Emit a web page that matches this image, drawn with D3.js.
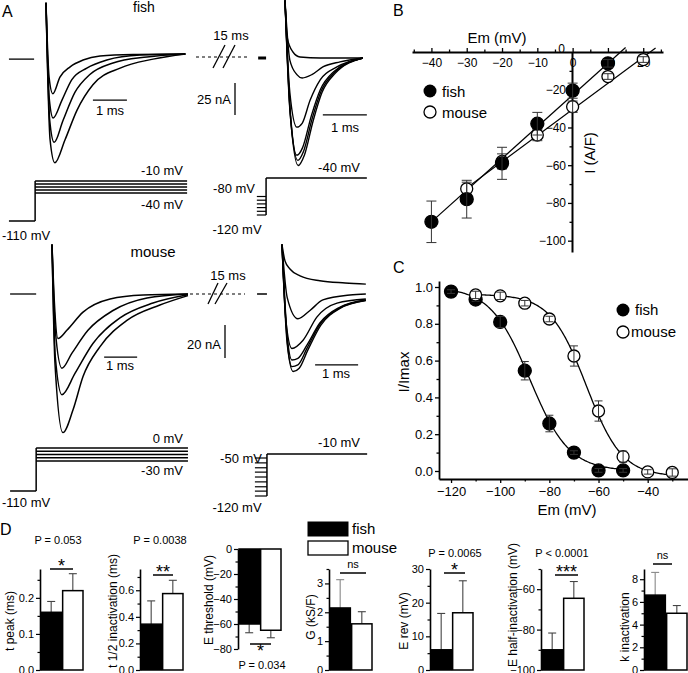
<!DOCTYPE html>
<html>
<head>
<meta charset="utf-8">
<script src="https://cdn.jsdelivr.net/npm/d3@7"></script>
<style>
	body { margin: 0; background: #fff; }
	svg text { font-family: "Liberation Sans", Arial, sans-serif; fill: #000; }
</style>
</head>
<body>
<svg id="fig" width="688" height="673"></svg>
<script>
// ---------- Panel A: current traces, [time (ms), current (nA)] ----------
const fishActTraces = [
	[[0, 40], [0.09, -18], [0.2, -31], [0.41, -18], [0.71, -10], [1.09, -4.7], [1.59, -1.6], [2.56, -0.4], [4.1, 0]],
	[[0, 40], [0.1, -36], [0.21, -50], [0.47, -36], [0.76, -20], [1.2, -11], [1.79, -4.7], [2.76, -0.8], [4.1, 0]],
	[[0, 40], [0.11, -52], [0.24, -69], [0.5, -52], [0.85, -30], [1.29, -16], [1.97, -7], [2.97, -2.3], [4.1, 0]],
	[[0, 40], [0.12, -67], [0.26, -85], [0.56, -67], [0.91, -44], [1.38, -24], [2.18, -11], [3.15, -4], [4.1, 0]]
];
const fishInactTraces = [
	[[0, 45], [0.05, 16], [0.18, 4.7], [0.34, 0.8], [0.8, 0], [1.77, 0]],
	[[0, 45], [0.11, -1.6], [0.27, -13], [0.39, -15.6], [0.61, -13], [0.86, -7], [1.25, -3], [1.77, 0]],
	[[0, 45], [0.11, -27], [0.27, -54], [0.39, -51], [0.57, -33], [0.8, -17], [1.18, -7], [1.77, 0]],
	[[0, 45], [0.11, -40], [0.27, -76], [0.4, -70], [0.6, -45], [0.8, -25], [1.1, -11], [1.77, 0]],
	[[0, 45], [0.12, -42], [0.29, -80], [0.42, -73], [0.62, -47], [0.82, -26], [1.12, -11.5], [1.77, 0]],
	[[0, 45], [0.12, -44], [0.3, -84], [0.44, -76], [0.64, -49], [0.84, -27], [1.14, -12], [1.77, 0]]
];
const mouseActTraces = [
	[[0, 30], [0.08, -8], [0.18, -27], [0.45, -22], [0.94, -11], [1.76, -3], [2.76, -0.6], [4.12, 0]],
	[[0, 30], [0.1, -22], [0.3, -45], [0.6, -36], [1.09, -22], [1.85, -10], [2.88, -2.4], [4.12, 0]],
	[[0, 30], [0.1, -38], [0.3, -61], [0.7, -48], [1.24, -30], [2.06, -14.5], [3.06, -5.5], [4.12, -0.5]],
	[[0, 30], [0.09, -42], [0.33, -84], [0.64, -70], [0.94, -50], [1.45, -32], [2.27, -16], [3.27, -6.7], [4.12, -1]]
];
const mouseInactTraces = [
	[[0, 30], [0.07, 20], [0.19, 15], [0.42, 11], [0.88, 8], [1.47, 6.7], [1.95, 6]],
	[[0, 30], [0.12, -2], [0.37, -15], [0.65, -10], [0.95, -3.6], [1.58, -0.6], [1.95, 0]],
	[[0, 30], [0.09, -16], [0.23, -33], [0.49, -28], [0.81, -14], [1.28, -5.5], [1.95, -3]],
	[[0, 30], [0.12, -25], [0.23, -40], [0.37, -39], [0.58, -31], [0.88, -17.6], [1.35, -7.9], [1.95, -3.6]],
	[[0, 30], [0.12, -28], [0.23, -44], [0.37, -43], [0.58, -33], [0.88, -18.5], [1.35, -8.4], [1.95, -3.8]],
	[[0, 30], [0.12, -30], [0.26, -47], [0.4, -45], [0.6, -34], [0.9, -19], [1.35, -8.7], [1.95, -4]]
];

// voltage protocols (mV)
const fishActSteps = [-10, -17.5, -25, -32.5, -40];
const fishInactPrepulses = [-80, -88, -96, -104, -112, -120];
const mouseActSteps = [0, -7.5, -15, -22.5, -30];
const mouseInactPrepulses = [-50, -59, -68, -76, -85, -94, -103, -111, -120];

// ---------- Panel B: current-voltage ----------
const ivVoltages = [-40, -30, -20, -10, 0, 10, 20];
const fishIV = [-90, -78, -59, -38, -20.5, -6, null];
const fishIVErr = [11, 10, 8.5, 6, 4, 2, null];
const mouseIV = [null, -72.5, -58, -44, -29, -13, -4];
const mouseIVErr = [null, 3.5, 4, 3, 3, 1.5, 1.5];
const fishIVFit = [1.68, 13.6];   // slope (A/F per mV), reversal (mV)
const mouseIVFit = [1.385, 22];

// ---------- Panel C: steady-state inactivation ----------
const inactVoltages = [-120, -110, -100, -90, -80, -70, -60, -50, -40, -30];
const fishInact = [0.975, 0.932, 0.81, 0.545, 0.258, 0.1, 0.003, 0.003, null, null];
const fishInactErr = [0.01, 0.01, 0.03, 0.05, 0.045, 0.01, 0.01, 0.01, null, null];
const mouseInact = [null, 0.957, 0.952, 0.912, 0.826, 0.625, 0.326, 0.078, -0.005, -0.008];
const mouseInactErr = [null, 0.02, 0.02, 0.015, 0.015, 0.055, 0.055, 0.03, 0.012, 0.02];
const fishBoltzmann = [-88, 8, 1.0, 0.0];     // V1/2, k, top, bottom
const mouseBoltzmann = [-65, 7.3, 0.96, -0.03];

// ---------- Panel D: summary bars ----------
const barLabels = ["t peak (ms)", "t 1/2 inactivation (ms)", "E threshold (mV)", "G (kS/F)", "E rev (mV)", "E half-inactivation (mV)", "k inactivation"];
const fishMeans = [0.16, 0.345, -60, 2.15, 6, -90, 6.6];
const fishErrs = [0.03, 0.175, 7, 0.98, 10.8, 8.3, 2.0];
const mouseMeans = [0.22, 0.575, -65, 1.6, 17, -64.5, 5.0];
const mouseErrs = [0.047, 0.1, 6, 0.42, 9.5, 8.3, 0.68];
const pLabels = ["P = 0.053", "P = 0.0038", "P = 0.034", "", "P = 0.0065", "P  < 0.0001", ""];
const sigMarks = ["*", "**", "*", "ns", "*", "***", "ns"];
const barDomains = [[0, 0.28], [0, 0.76], [0, -80], [0, 3.5], [0, 30], [-100, -50], [0, 8.9]];
const barTicks = [[0, 0.1, 0.2], [0, 0.2, 0.4, 0.6], [0, -20, -40, -60, -80], [0, 1, 2, 3], [0, 10, 20, 30], [-100, -80, -60], [0, 2, 4, 6, 8]];
const barMinorStep = [0.05, 0.1, 10, 0.5, 5, 10, 1];
const barFormats = [".1f", ".1f", "d", "d", "d", "d", "d"];

const svg = d3.select('#fig');
svg.append('rect').attr('width', 688).attr('height', 673).attr('fill', '#fff');

function txt(x, y, s, size, anchor, rotate) {
	const t = svg.append('text')
		.attr('x', x).attr('y', y)
		.attr('font-size', size)
		.attr('text-anchor', anchor || 'start')
		.text(s);
	if (rotate) t.attr('transform', `rotate(${rotate},${x},${y})`).attr('dy', '0.35em');
	return t;
}

function seg(x1, y1, x2, y2, w, col, dash) {
	const l = svg.append('line')
		.attr('x1', x1).attr('y1', y1).attr('x2', x2).attr('y2', y2)
		.attr('stroke', col || '#000').attr('stroke-width', w || 1);
	if (dash) l.attr('stroke-dasharray', dash);
	return l;
}

// ================= PANEL A =================
function drawTraces(traces, x, y, w) {
	const line = d3.line()
		.x(d => x(d[0]))
		.y(d => y(d[1]))
		.curve(d3.curveMonotoneX);
	svg.append('g')
		.selectAll('path')
		.data(traces)
		.join('path')
		.attr('d', line)
		.attr('fill', 'none')
		.attr('stroke', '#000')
		.attr('stroke-width', w)
		.style('stroke-linejoin', 'round');
}

// fish activation
const faX = d3.scaleLinear().domain([0, 1]).range([46, 80]);
const faY = d3.scaleLinear().domain([0, -25]).range([54, 86]);
drawTraces(fishActTraces, faX, faY, 1.5);
seg(faX(-1.09), faY(-4), faX(-0.35), faY(-4), 1.3);
seg(faX(1.38), faY(-36), faX(2.38), faY(-36), 1.3);
seg(235, faY(-22.7), 235, faY(-47.7), 1.3);
txt(144, 12, 'fish', 14, 'middle');
txt(110, 115, '1 ms', 13, 'middle');
txt(231, 104, '25 nA', 13, 'end');
txt(231, 40, '15 ms', 13, 'middle');
seg(196, 57, 248, 57, 1.2, '#000', '3,3');
seg(213, 68, 225, 45, 1.3);
seg(223, 68, 235, 45, 1.3);

// fish inactivation
const fiX = d3.scaleLinear().domain([0, 1]).range([285, 329]);
const fiY = d3.scaleLinear().domain([0, -25]).range([58, 90]);
drawTraces(fishInactTraces, fiX, fiY, 1.4);
seg(fiX(-0.61), fiY(0), fiX(-0.43), fiY(0), 3);
seg(fiX(0.86), fiY(-44.5), fiX(1.86), fiY(-44.5), 1.3);
txt(345, 132, '1 ms', 13, 'middle');

// fish protocols
const fpaV = d3.scaleLinear().domain([-110, -10]).range([221, 181]);
seg(faX(-1.09), fpaV(-110), faX(-0.32), fpaV(-110), 1.5);
seg(faX(-0.32), fpaV(-110), faX(-0.32), fpaV(-10), 1.5);
fishActSteps.forEach(v => seg(faX(-0.32), fpaV(v), faX(4.15), fpaV(v), 1.3));
txt(183, 175, '-10 mV', 13, 'end');
txt(183, 209, '-40 mV', 13, 'end');
txt(2, 240, '-110 mV', 13, 'start');

const fpiV = d3.scaleLinear().domain([-120, -40]).range([215, 178]);
seg(fiX(-0.43), fpiV(-120), fiX(-0.43), fpiV(-40), 1.5);
seg(fiX(-0.43), fpiV(-40), fiX(1.86), fpiV(-40), 1.5);
fishInactPrepulses.forEach(v => seg(fiX(-0.64), fpiV(v), fiX(-0.43), fpiV(v), 1.2));
txt(360, 172, '-40 mV', 13, 'end');
txt(255, 193, '-80 mV', 13, 'end');
txt(237, 234, '-120 mV', 13, 'middle');

// mouse activation
const maX = d3.scaleLinear().domain([0, 1]).range([52, 85]);
const maY = d3.scaleLinear().domain([0, -20]).range([294, 327]);
drawTraces(mouseActTraces, maX, maY, 1.5);
seg(maX(-1.27), maY(0), maX(-0.48), maY(0), 1.3);
seg(maX(1.58), maY(-38.2), maX(2.58), maY(-38.2), 1.3);
seg(225, maY(-18.8), 225, maY(-38.8), 1.3);
txt(153, 257, 'mouse', 15, 'middle');
txt(120, 370, '1 ms', 13, 'middle');
txt(221, 349, '20 nA', 13, 'end');
txt(228, 280, '15 ms', 13, 'middle');
seg(190, 294, 245, 294, 1.2, '#000', '3,3');
seg(208, 304, 218, 283, 1.3);
seg(215, 304, 227, 283, 1.3);

// mouse inactivation
const miX = d3.scaleLinear().domain([0, 1]).range([282, 325]);
const miY = d3.scaleLinear().domain([0, -20]).range([294, 327]);
drawTraces(mouseInactTraces, miX, miY, 1.4);
seg(miX(-0.58), miY(0), miX(-0.35), miY(0), 1.5);
seg(miX(0.77), miY(-43), miX(1.77), miY(-43), 1.3);
txt(336, 378, '1 ms', 13, 'middle');

// mouse protocols
const mpaV = d3.scaleLinear().domain([-110, -30, 0]).range([491, 461, 448]);
seg(maX(-1.27), mpaV(-110), maX(-0.48), mpaV(-110), 1.5);
seg(maX(-0.48), mpaV(-110), maX(-0.48), mpaV(0), 1.5);
mouseActSteps.forEach(v => seg(maX(-0.48), mpaV(v), maX(4.12), mpaV(v), 1.3));
txt(183, 443, '0 mV', 13, 'end');
txt(183, 475, '-30 mV', 13, 'end');
txt(2, 507, '-110 mV', 13, 'start');

const mpiV = d3.scaleLinear().domain([-120, -50, -10]).range([496, 458, 454]);
seg(miX(-0.35), mpiV(-120), miX(-0.35), mpiV(-10), 1.5);
seg(miX(-0.35), mpiV(-10), miX(1.98), mpiV(-10), 1.5);
mouseInactPrepulses.forEach(v => seg(miX(-0.63), mpiV(v), miX(-0.35), mpiV(v), 1.2));
txt(360, 447, '-10 mV', 13, 'end');
txt(262, 463, '-50 mV', 13, 'end');
txt(237, 512, '-120 mV', 13, 'middle');

// ================= PANEL B =================
const xB = d3.scaleLinear().domain([-45.5, 25.6]).range([412, 663]);
const yB = d3.scaleLinear().domain([0, -106]).range([52, 252]);

const gbx = svg.append('g').attr('transform', 'translate(0,52)');
gbx.call(d3.axisBottom(xB).tickValues([-40, -30, -20, -10, 0, 10, 20]).tickSize(-4).tickSizeOuter(0).tickPadding(6));
gbx.append('g').call(d3.axisBottom(xB).tickValues([-45, -35, -25, -15, -5, 5, 15, 25]).tickSize(-2.5).tickFormat(''))
	.select('.domain').remove();
const gby = svg.append('g').attr('transform', 'translate(572,0)');
gby.call(d3.axisLeft(yB).tickValues([-20, -40, -60, -80, -100]).tickSize(4).tickSizeOuter(0).tickPadding(2));
gby.append('g').call(d3.axisLeft(yB).tickValues([-10, -30, -50, -70, -90]).tickSize(2.5).tickFormat(''))
	.select('.domain').remove();
[gbx, gby].forEach(g => {
	g.selectAll('.domain').attr('stroke-width', 2);
	g.selectAll('.tick line').attr('stroke-width', 1.3);
	g.selectAll('text').attr('font-size', 12).attr('font-family', '"Liberation Sans", Arial, sans-serif');
});
txt(565, 53, '0', 12, 'end');
txt(497, 43, 'Em (mV)', 15, 'middle');
txt(590, 153, 'I (A/F)', 15, 'middle', -90);

function linFit(p) { return v => p[0] * (v - p[1]); }
const fishIVLine = linFit(fishIVFit), mouseIVLine = linFit(mouseIVFit);
seg(xB(-40), yB(fishIVLine(-40)), xB(15), yB(fishIVLine(15)), 1.2);
seg(xB(-30), yB(mouseIVLine(-30)), xB(23.5), yB(mouseIVLine(23.5)), 1.2);

function drawPoints(xs, ys, errs, xS, yS, filled, r, cap) {
	const g = svg.append('g');
	const pts = xs.map((v, i) => ({ v, m: ys[i], e: errs[i] })).filter(d => d.m !== null);
	g.selectAll('circle').data(pts).join('circle')
		.attr('cx', d => xS(d.v)).attr('cy', d => yS(d.m)).attr('r', r)
		.attr('fill', filled ? '#000' : '#fff')
		.attr('stroke', '#000').attr('stroke-width', 1.3);
	pts.forEach(d => {
		const cx = xS(d.v);
		const y1 = yS(d.m + d.e), y2 = yS(d.m - d.e);
		seg(cx, y1, cx, y2, 1, '#333');
		seg(cx - cap, y1, cx + cap, y1, 1, '#333');
		seg(cx - cap, y2, cx + cap, y2, 1, '#333');
	});
}
drawPoints(ivVoltages, mouseIV, mouseIVErr, xB, yB, false, 6, 5);
drawPoints(ivVoltages, fishIV, fishIVErr, xB, yB, true, 6.5, 5);

svg.append('circle').attr('cx', 430).attr('cy', 91).attr('r', 6.5).attr('fill', '#000');
svg.append('circle').attr('cx', 430).attr('cy', 112).attr('r', 6).attr('fill', '#fff').attr('stroke', '#000').attr('stroke-width', 1.3);
txt(442, 97, 'fish', 15);
txt(442, 118, 'mouse', 15);

// ================= PANEL C =================
const xC = d3.scaleLinear().domain([-124.9, -23.6]).range([439, 688]);
const yC = d3.scaleLinear().domain([-0.0435, 1.0326]).range([479, 281]);

const gcx = svg.append('g').attr('transform', 'translate(0,479)');
gcx.call(d3.axisBottom(xC).tickValues([-120, -100, -80, -60, -40]).tickSize(4).tickSizeOuter(0).tickPadding(4));
gcx.append('g').call(d3.axisBottom(xC).tickValues([-110, -90, -70, -50, -30]).tickSize(2.5).tickFormat(''))
	.select('.domain').remove();
const gcy = svg.append('g').attr('transform', 'translate(439,0)');
gcy.call(d3.axisLeft(yC).tickValues([0, 0.2, 0.4, 0.6, 0.8, 1.0]).tickFormat(d3.format('.1f')).tickSize(4).tickSizeOuter(0).tickPadding(2));
gcy.append('g').call(d3.axisLeft(yC).tickValues([0.1, 0.3, 0.5, 0.7, 0.9]).tickSize(2.5).tickFormat(''))
	.select('.domain').remove();
[gcx, gcy].forEach(g => {
	g.selectAll('.domain').attr('stroke-width', 1.8);
	g.selectAll('.tick line').attr('stroke-width', 1.3);
	g.selectAll('text').attr('font-size', 13).attr('font-family', '"Liberation Sans", Arial, sans-serif');
});
txt(567, 515, 'Em (mV)', 15, 'middle');
txt(404, 372, 'I/Imax', 15, 'middle', -90);

function boltzmann(p) { return v => p[3] + (p[2] - p[3]) / (1 + Math.exp((v - p[0]) / p[1])); }
const cLine = d3.line().x(d => xC(d[0])).y(d => yC(d[1]));
const fishB = boltzmann(fishBoltzmann), mouseB = boltzmann(mouseBoltzmann);
svg.append('path').attr('d', cLine(d3.range(-120, -49.9, 0.5).map(v => [v, fishB(v)])))
	.attr('fill', 'none').attr('stroke', '#000').attr('stroke-width', 1.3);
svg.append('path').attr('d', cLine(d3.range(-110, -29.9, 0.5).map(v => [v, mouseB(v)])))
	.attr('fill', 'none').attr('stroke', '#000').attr('stroke-width', 1.3);

drawPoints(inactVoltages, fishInact, fishInactErr, xC, yC, true, 6.5, 4);
drawPoints(inactVoltages, mouseInact, mouseInactErr, xC, yC, false, 6, 4);

svg.append('circle').attr('cx', 623).attr('cy', 310).attr('r', 6.5).attr('fill', '#000');
svg.append('circle').attr('cx', 623).attr('cy', 332).attr('r', 6).attr('fill', '#fff').attr('stroke', '#000').attr('stroke-width', 1.3);
txt(635, 315, 'fish', 15);
txt(631, 337, 'mouse', 15);

// ================= PANEL D =================
const axisXs = [40, 140, 238, 329, 430, 541, 644];
const labelXs = [10, 113, 209, 311, 404, 513, 625];
const labelYs = [621, 611, 600, 617, 621, 605, 627];
const pPos = [[58, 544], [160, 544], [262, 669], null, [455, 557], [562, 557], null];
const sigPos = [[50, 73, 569], [153, 173, 575], [250, 271, 644], [340, 366, 573], [444, 465, 573], [555, 578, 575], [653, 672, 564]];

barLabels.forEach((label, i) => {
	const ax = axisXs[i];
	const dom = barDomains[i];
	const hanging = dom[1] < dom[0];
	const y = d3.scaleLinear().domain(dom).range(hanging ? [549, 649] : [670, 569]);
	const base = dom[0];
	const x = d3.scaleBand().domain(['fish', 'mouse']).range([ax + 1, ax + 43]).paddingInner(0.06);

	const vals = [
		{ k: 'fish', m: fishMeans[i], e: fishErrs[i], fill: '#000' },
		{ k: 'mouse', m: mouseMeans[i], e: mouseErrs[i], fill: '#fff' }
	];
	const g = svg.append('g');
	vals.forEach(d => {
		const dir = Math.sign(d.m - base);
		const cx = x(d.k) + x.bandwidth() / 2;
		const yE = y(d.m + dir * d.e);
		const errCol = (i === 3 || i === 6) && d.k === 'fish' ? '#888' : '#444';
		g.append('line').attr('x1', cx).attr('x2', cx).attr('y1', y(d.m)).attr('y2', yE)
			.attr('stroke', errCol).attr('stroke-width', 1.1);
		g.append('line').attr('x1', cx - 4).attr('x2', cx + 4).attr('y1', yE).attr('y2', yE)
			.attr('stroke', errCol).attr('stroke-width', 1.1);
		g.append('rect')
			.attr('x', x(d.k)).attr('width', x.bandwidth())
			.attr('y', Math.min(y(base), y(d.m)))
			.attr('height', Math.abs(y(base) - y(d.m)))
			.attr('fill', d.fill).attr('stroke', '#000').attr('stroke-width', 1.5);
	});

	const lo = Math.min(dom[0], dom[1]), hi = Math.max(dom[0], dom[1]);
	const minor = d3.range(Math.ceil(lo / barMinorStep[i]) * barMinorStep[i], hi + 1e-9, barMinorStep[i])
		.filter(v => !barTicks[i].some(t => Math.abs(t - v) < 1e-9));
	const ga = svg.append('g').attr('transform', `translate(${ax},0)`);
	ga.call(d3.axisLeft(y).tickValues(barTicks[i]).tickFormat(d3.format(barFormats[i])).tickSize(4).tickSizeOuter(0).tickPadding(2));
	ga.append('g').call(d3.axisLeft(y).tickValues(minor).tickSize(2.5).tickFormat('')).select('.domain').remove();
	ga.selectAll('.domain').attr('stroke-width', 1.6);
	ga.selectAll('.tick line').attr('stroke-width', 1.2);
	ga.selectAll('text').attr('font-size', 11).attr('font-family', '"Liberation Sans", Arial, sans-serif');

	txt(labelXs[i], labelYs[i], label, 12, 'middle', -90);

	if (pPos[i]) txt(pPos[i][0], pPos[i][1], pLabels[i], 11, 'middle');
	const s = sigPos[i];
	seg(s[0], s[2], s[1], s[2], 1.5);
	const cx = (s[0] + s[1]) / 2;
	if (sigMarks[i] === 'ns') {
		txt(cx, s[2] - 5, 'ns', 11, 'middle');
	} else if (hanging) {
		txt(cx, s[2] + 13, sigMarks[i], 18, 'middle');
	} else {
		txt(cx, s[2] + 3, sigMarks[i], 18, 'middle');
	}
});

// legend D
svg.append('rect').attr('x', 308).attr('y', 522).attr('width', 40).attr('height', 14).attr('fill', '#000').attr('stroke', '#000');
svg.append('rect').attr('x', 308).attr('y', 541).attr('width', 40).attr('height', 14).attr('fill', '#fff').attr('stroke', '#000').attr('stroke-width', 1.3);
txt(352, 534, 'fish', 15);
txt(352, 553, 'mouse', 15);

// panel letters
txt(2, 17, 'A', 16);
txt(393, 16, 'B', 16);
txt(393, 273, 'C', 16);
txt(0, 535, 'D', 16);
</script>
</body>
</html>
